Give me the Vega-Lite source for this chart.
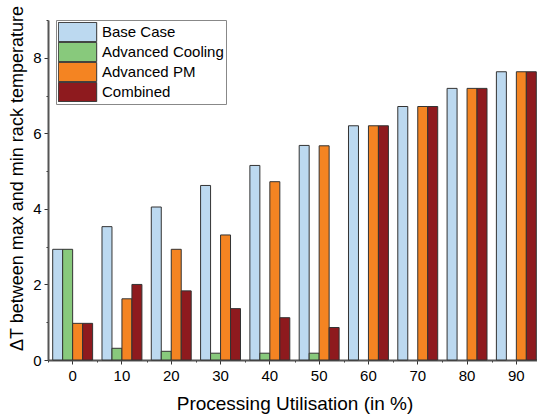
{
  "$schema": "https://vega.github.io/schema/vega-lite/v6.json",
  "width": 493,
  "height": 340,
  "autosize": {"type": "none"},
  "padding": {"left": 48, "top": 20, "right": 0, "bottom": 59},
  "background": "white",
  "config": {
    "view": {"stroke": null},
    "font": "Liberation Sans"
  },
  "data": {
    "values": [
      {"util": 0, "series": "Base Case", "dT": 2.93},
      {"util": 0, "series": "Advanced Cooling", "dT": 2.93},
      {"util": 0, "series": "Advanced PM", "dT": 0.97},
      {"util": 0, "series": "Combined", "dT": 0.97},
      {"util": 10, "series": "Base Case", "dT": 3.53},
      {"util": 10, "series": "Advanced Cooling", "dT": 0.31},
      {"util": 10, "series": "Advanced PM", "dT": 1.62},
      {"util": 10, "series": "Combined", "dT": 2.0},
      {"util": 20, "series": "Base Case", "dT": 4.05},
      {"util": 20, "series": "Advanced Cooling", "dT": 0.23},
      {"util": 20, "series": "Advanced PM", "dT": 2.93},
      {"util": 20, "series": "Combined", "dT": 1.83},
      {"util": 30, "series": "Base Case", "dT": 4.62},
      {"util": 30, "series": "Advanced Cooling", "dT": 0.18},
      {"util": 30, "series": "Advanced PM", "dT": 3.31},
      {"util": 30, "series": "Combined", "dT": 1.36},
      {"util": 40, "series": "Base Case", "dT": 5.15},
      {"util": 40, "series": "Advanced Cooling", "dT": 0.18},
      {"util": 40, "series": "Advanced PM", "dT": 4.72},
      {"util": 40, "series": "Combined", "dT": 1.12},
      {"util": 50, "series": "Base Case", "dT": 5.68},
      {"util": 50, "series": "Advanced Cooling", "dT": 0.18},
      {"util": 50, "series": "Advanced PM", "dT": 5.67},
      {"util": 50, "series": "Combined", "dT": 0.86},
      {"util": 60, "series": "Base Case", "dT": 6.2},
      {"util": 60, "series": "Advanced PM", "dT": 6.2},
      {"util": 60, "series": "Combined", "dT": 6.2},
      {"util": 70, "series": "Base Case", "dT": 6.71},
      {"util": 70, "series": "Advanced PM", "dT": 6.71},
      {"util": 70, "series": "Combined", "dT": 6.71},
      {"util": 80, "series": "Base Case", "dT": 7.19},
      {"util": 80, "series": "Advanced PM", "dT": 7.19},
      {"util": 80, "series": "Combined", "dT": 7.19},
      {"util": 90, "series": "Base Case", "dT": 7.63},
      {"util": 90, "series": "Advanced PM", "dT": 7.63},
      {"util": 90, "series": "Combined", "dT": 7.63}
    ]
  },
  "layer": [
    {
      "mark": {"type": "rule", "opacity": 0},
      "encoding": {
        "x": {
          "field": "util",
          "type": "ordinal",
          "scale": {"domain": [0, 10, 20, 30, 40, 50, 60, 70, 80, 90], "paddingInner": 0, "paddingOuter": 0},
          "axis": {
            "orient": "bottom",
            "title": null,
            "labels": false,
            "domain": false,
            "tickBand": "extent",
            "tickColor": "#333",
            "tickSize": 2,
            "grid": false
          }
        }
      }
    },
    {
      "mark": {"type": "bar", "stroke": "#333333", "strokeWidth": 1},
      "encoding": {
        "x": {
          "field": "util",
          "type": "ordinal",
          "scale": {"domain": [0, 10, 20, 30, 40, 50, 60, 70, 80, 90], "paddingInner": 0, "paddingOuter": 0},
          "axis": {
            "orient": "bottom",
            "title": "Processing Utilisation (in %)",
            "titleFontSize": 19,
            "titleFontWeight": "normal",
            "titleColor": "#000",
            "titlePadding": 11,
            "labelAngle": 0,
            "labelFontSize": 15,
            "labelColor": "#000",
            "labelPadding": 4,
            "tickColor": "#333",
            "tickSize": 4,
            "domainColor": "#555",
            "domainWidth": 2,
            "grid": false
          }
        },
        "xOffset": {
          "field": "series",
          "type": "nominal",
          "sort": ["Base Case", "Advanced Cooling", "Advanced PM", "Combined"],
          "scale": {"domain": ["Base Case", "Advanced Cooling", "Advanced PM", "Combined"], "paddingInner": 0, "paddingOuter": 0.47}
        },
        "y": {
          "field": "dT",
          "type": "quantitative",
          "scale": {"domain": [0, 9], "nice": false},
          "axis": {
            "title": "ΔT between max and min rack temperature",
            "titleFontSize": 18,
            "titleFontWeight": "normal",
            "titleColor": "#000",
            "titlePadding": 6,
            "titleY": 158,
            "values": [0, 1, 2, 3, 4, 5, 6, 7, 8, 9],
            "labelExpr": "datum.value % 2 === 0 ? datum.label : ''",
            "labelFontSize": 15,
            "labelColor": "#000",
            "labelPadding": 3,
            "tickColor": "#333",
            "tickSize": {"condition": {"test": "datum.value % 2 === 0", "value": 4}, "value": 2},
            "domainColor": "#555",
            "domainWidth": 2,
            "grid": false
          }
        },
        "color": {
          "field": "series",
          "type": "nominal",
          "sort": ["Base Case", "Advanced Cooling", "Advanced PM", "Combined"],
          "scale": {
            "domain": ["Base Case", "Advanced Cooling", "Advanced PM", "Combined"],
            "range": ["#bcd9f0", "#88c97c", "#f48422", "#8e1a1e"]
          },
          "legend": {
            "title": null,
            "orient": "none",
            "legendX": 8,
            "legendY": 0,
            "fillColor": "white",
            "strokeColor": "#888",
            "padding": 2,
            "symbolType": "M-2.4,-1.2H2.4V1.2H-2.4Z",
            "symbolSize": 256,
            "symbolOffset": 11,
            "symbolStrokeColor": "#333",
            "symbolStrokeWidth": 1,
            "symbolOpacity": 1,
            "clipHeight": 20,
            "rowPadding": 0,
            "labelFontSize": 15,
            "labelColor": "#000",
            "labelOffset": 16
          }
        }
      }
    }
  ],
  "resolve": {"axis": {"x": "independent"}}
}
